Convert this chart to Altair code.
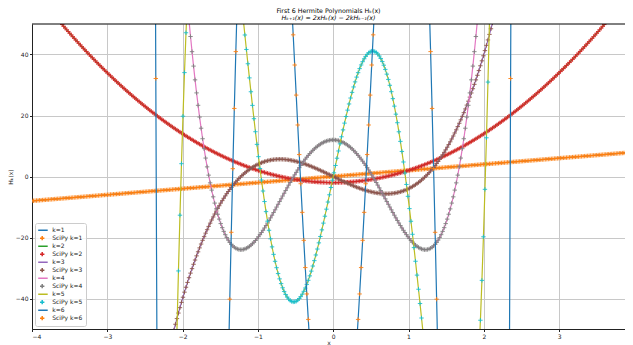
import numpy as np
import pandas as pd
import altair as alt

# ---- data -------------------------------------------------------------
x_start, x_stop, n_points = -4.0, 4.0, 400
orders = [1, 2, 3, 4, 5, 6]
# Physicists' Hermite polynomial coefficients (highest power first), as SciPy gives them
scipy_coeffs = {
    1: [2, 0],
    2: [4, 0, -2],
    3: [8, 0, -12, 0],
    4: [16, 0, -48, 0, 12],
    5: [32, 0, -160, 0, 120, 0],
    6: [64, 0, -480, 0, 720, 0, -120],
}
line_labels = [f"k={k}" for k in orders]
scipy_labels = [f"SciPy k={k}" for k in orders]
series_order = [lab for pair in zip(line_labels, scipy_labels) for lab in pair]
palette = ["#1f77b4", "#ff7f0e", "#2ca02c", "#d62728", "#9467bd", "#8c564b",
           "#e377c2", "#7f7f7f", "#bcbd22", "#17becf", "#1f77b4", "#ff7f0e"]
x_ticks = [-4, -3, -2, -1, 0, 1, 2, 3]
y_ticks = [-40, -20, 0, 20, 40]
x_view = [-4, 3.875]   # the picture is cut just before x = 4
y_view = [-50, 50]

xs = np.linspace(x_start, x_stop, n_points)

# recurrence H_{k+1} = 2x H_k - 2k H_{k-1}
rec = {0: np.ones_like(xs), 1: 2 * xs}
for k in range(1, 6):
    rec[k + 1] = 2 * xs * rec[k] - 2 * k * rec[k - 1]

# ---- scales / legend ---------------------------------------------------
STROKE = "M-1.7,0L1.7,0"
PLUS = "M-0.68,0L0.68,0M0,-0.68L0,0.68"
shape_range = [STROKE if s.startswith("k=") else PLUS for s in series_order]

color_scale = alt.Scale(domain=series_order, range=palette)
shape_scale = alt.Scale(domain=series_order, range=shape_range)
legend = alt.Legend(title=None, orient="bottom-left", offset=3, labelFontSize=6,
                    symbolStrokeWidth=1.5, rowPadding=0, clipHeight=7.9, padding=3.2,
                    labelOffset=6, fillColor="rgba(255,255,255,0.8)",
                    strokeColor="#cccccc", cornerRadius=2, symbolSize=42,
                    labelColor="#222222")

X = alt.X("x:Q", scale=alt.Scale(domain=x_view, nice=False, zero=False),
          axis=alt.Axis(values=x_ticks, title="x", format="d", titlePadding=0))
Y = alt.Y("y:Q", scale=alt.Scale(domain=y_view, nice=False),
          axis=alt.Axis(values=y_ticks, title="Hₖ(x)", titlePadding=1.5))

layers = []
for k in orders:
    line_df = pd.DataFrame({"x": xs, "y": rec[k], "series": f"k={k}"})
    ys = np.polyval(scipy_coeffs[k], xs)
    keep = np.abs(ys) <= 60
    pts_df = pd.DataFrame({"x": xs[keep], "y": ys[keep], "series": f"SciPy k={k}"})
    layers.append(
        alt.Chart(line_df).mark_line(clip=True, strokeWidth=1.2).encode(
            x=X, y=Y, color=alt.Color("series:N", scale=color_scale, legend=legend))
    )
    layers.append(
        alt.Chart(pts_df).mark_point(clip=True, filled=False, size=42, strokeWidth=0.9, opacity=1).encode(
            x=X, y=Y,
            color=alt.Color("series:N", scale=color_scale, legend=legend),
            shape=alt.Shape("series:N", scale=shape_scale, legend=legend))
    )

# top frame line (the right one lies outside the picture)
top_frame = alt.Chart(pd.DataFrame({"v": [y_view[1]]})).mark_rule(
    color="#000000", strokeWidth=1).encode(y=alt.Y("v:Q", scale=alt.Scale(domain=y_view, nice=False)))
layers.append(top_frame)

chart = alt.layer(*layers).properties(
    width=593, height=305,
    padding={"left": 24, "top": 16, "right": 0, "bottom": 16},
    autosize=alt.AutoSizeParams(type="none"),
    title=alt.TitleParams("First 6 Hermite Polynomials Hₖ(x)",
                          subtitle="Hₖ₊₁(x) = 2xHₖ(x) − 2kHₖ₋₁(x)",
                          fontSize=6.3, subtitleFontSize=6.3, fontWeight="normal",
                          subtitleFontStyle="italic", offset=2.5, subtitlePadding=0.3,
                          anchor="middle", color="#000000", subtitleColor="#000000"),
).configure(font="DejaVu Sans").configure_view(
    stroke=None
).configure_axis(
    labelFontSize=6, titleFontSize=6, titleFontWeight="normal", labelColor="#222222",
    titleColor="#222222", tickColor="#222222", tickSize=2.5, labelPadding=1.5,
    gridColor="#c8c8c8", gridWidth=1, domain=True, domainColor="#222222", domainWidth=1,
)

chart.save("out.html", embed_options={"renderer": "svg", "actions": False})
